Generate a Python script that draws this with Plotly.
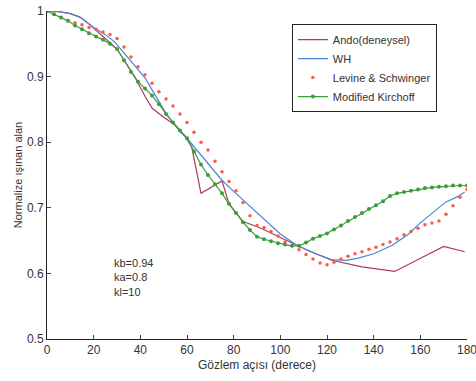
import plotly.graph_objects as go

# Angles (degrees) and normalized radiated field for each model
ando_deg = [0, 5, 10, 14, 18, 21, 25, 30, 34, 38, 42, 45, 50, 55, 59, 62, 66, 75, 78, 84, 91, 100, 110, 122, 135, 149, 170, 179]
ando_val = [1.0, 0.999, 0.996, 0.991, 0.980, 0.971, 0.958, 0.942, 0.920, 0.897, 0.870, 0.852, 0.838, 0.826, 0.810, 0.793,
            0.722, 0.741, 0.706, 0.679, 0.670, 0.655, 0.638, 0.620, 0.610, 0.603, 0.641, 0.633]

wh_deg = [0, 5, 10, 15, 20, 25, 29, 35, 42, 51, 57, 60, 65, 70, 75, 80, 87, 93, 100, 107, 115, 122, 128, 133, 140, 148,
          155, 160, 166, 171, 176, 179]
wh_val = [1.0, 0.999, 0.996, 0.989, 0.975, 0.964, 0.953, 0.928, 0.898, 0.844, 0.816, 0.806, 0.785, 0.763, 0.742, 0.725,
          0.702, 0.682, 0.660, 0.643, 0.630, 0.621, 0.620, 0.623, 0.630, 0.643, 0.660, 0.677, 0.694, 0.709, 0.717, 0.724]

ls_deg = list(range(0, 181, 3))
ls_val = [1.0, 0.995, 0.99, 0.985, 0.982, 0.979, 0.975, 0.972, 0.968, 0.964, 0.958, 0.945, 0.93, 0.915, 0.903, 0.89,
          0.877, 0.866, 0.855, 0.843, 0.83, 0.815, 0.8, 0.788, 0.771, 0.755, 0.74, 0.726, 0.708, 0.688, 0.673, 0.67,
          0.664, 0.657, 0.648, 0.642, 0.636, 0.629, 0.622, 0.616, 0.613, 0.617, 0.622, 0.626, 0.63, 0.633, 0.637, 0.64,
          0.644, 0.648, 0.653, 0.659, 0.664, 0.669, 0.674, 0.677, 0.68, 0.69, 0.703, 0.716, 0.728]

mk_deg = list(range(0, 181, 3))
mk_val = [1.0, 0.995, 0.99, 0.985, 0.978, 0.972, 0.966, 0.961, 0.956, 0.95, 0.942, 0.925, 0.907, 0.892, 0.882, 0.871,
          0.858, 0.843, 0.83, 0.818, 0.806, 0.786, 0.766, 0.75, 0.736, 0.722, 0.706, 0.692, 0.678, 0.666, 0.656, 0.652,
          0.649, 0.646, 0.644, 0.642, 0.642, 0.647, 0.653, 0.657, 0.661, 0.667, 0.673, 0.68, 0.686, 0.692, 0.698, 0.704,
          0.71, 0.718, 0.722, 0.724, 0.726, 0.728, 0.73, 0.731, 0.732, 0.733, 0.734, 0.734, 0.734]

x_ticks = [0, 20, 40, 60, 80, 100, 120, 140, 160, 180]
y_ticks = [0.5, 0.6, 0.7, 0.8, 0.9, 1.0]
y_tick_text = ["0.5", "0.6", "0.7", "0.8", "0.9", "1"]

fig = go.Figure()
fig.add_trace(go.Scatter(x=ando_deg, y=ando_val, mode="lines", name="Ando(deneysel)",
                         line=dict(color="#b0385e", width=1.2)))
fig.add_trace(go.Scatter(x=wh_deg, y=wh_val, mode="lines", name="WH",
                         line=dict(color="#4a86d4", width=1.2)))
fig.add_trace(go.Scatter(x=ls_deg, y=ls_val, mode="markers", name="Levine & Schwinger",
                         marker=dict(color="#ff5a48", size=3.5)))
fig.add_trace(go.Scatter(x=mk_deg, y=mk_val, mode="lines+markers", name="Modified Kirchoff",
                         line=dict(color="#3c9c3c", width=1.2), marker=dict(color="#3c9c3c", size=4)))

fig.add_annotation(x=28, y=0.628, xref="x", yref="y", xanchor="left", yanchor="top", align="left",
                   showarrow=False, text="kb=0.94<br>ka=0.8<br>kl=10",
                   font=dict(family="Arial, Liberation Sans", size=11, color="#333"))

fig.update_layout(
    width=476, height=381,
    margin=dict(l=47, r=9, t=11, b=42, autoexpand=False),
    paper_bgcolor="white", plot_bgcolor="white",
    font=dict(family="Arial, Liberation Sans", size=12, color="#333"),
    legend=dict(x=0.583, y=0.96, xanchor="left", yanchor="top", bgcolor="white",
                bordercolor="#222", borderwidth=1, font=dict(size=11), tracegroupgap=0,
                itemwidth=30),
    xaxis=dict(range=[0, 180], tickvals=x_ticks, ticks="inside", ticklen=4, showgrid=False,
               zeroline=False, showline=True, linecolor="#222", linewidth=1,
               ticklabeloverflow="allow", automargin=False,
               title=dict(text="Gözlem açısı (derece)", font=dict(size=12), standoff=4)),
    yaxis=dict(range=[0.5, 1.0], tickvals=y_ticks, ticktext=y_tick_text, ticks="inside", ticklen=4,
               showgrid=False, zeroline=False, showline=True, linecolor="#222", linewidth=1,
               automargin=False,
               title=dict(text="Normalize ışınan alan", font=dict(size=11), standoff=2)),
)

fig.write_html("out.html")
